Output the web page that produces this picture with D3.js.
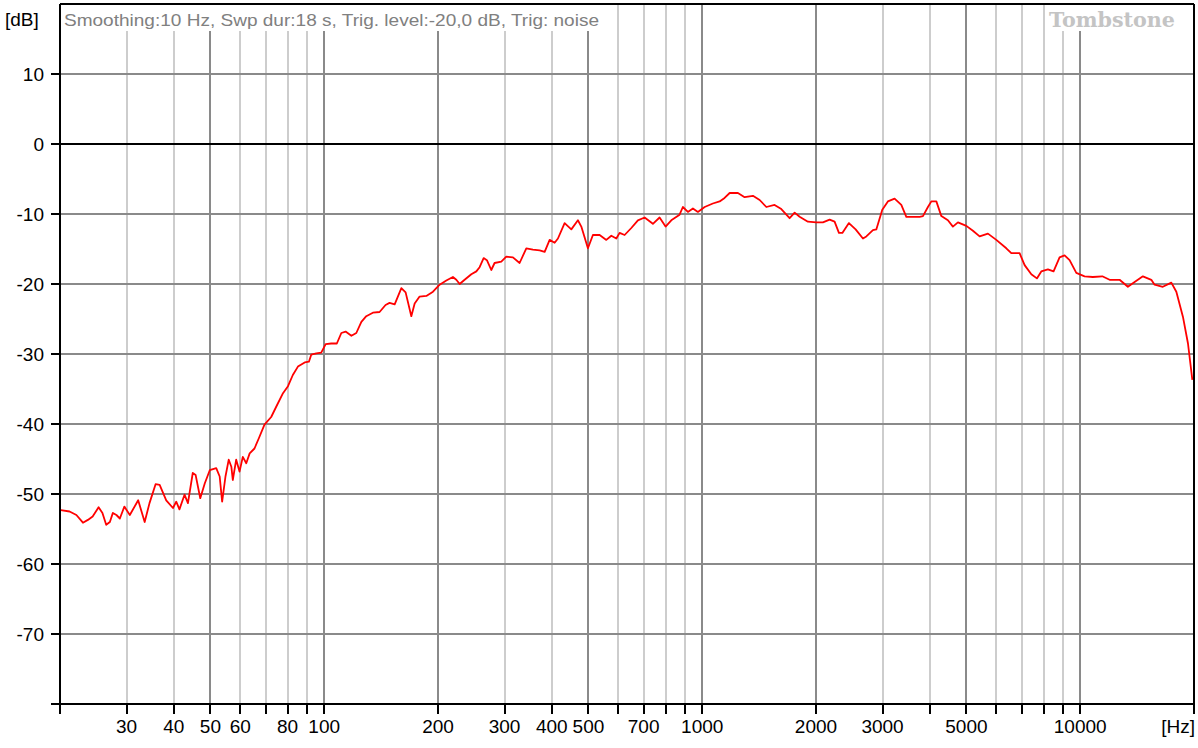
<!DOCTYPE html>
<html>
<head>
<meta charset="utf-8">
<script src="https://cdn.jsdelivr.net/npm/d3@7"></script>
<style>
  body { margin: 0; background: #fff; }
  svg { display: block; font-family: "Liberation Sans", Arial, sans-serif; }
</style>
</head>
<body>
<div id="chart"></div>
<script>
// frequency response (Hz / dB)
const freqs = [20.1, 21.2, 22.1, 23.0, 23.7, 24.4, 25.3, 25.9, 26.5, 27.1, 27.6, 28.2, 28.8, 29.6, 30.6, 32.2, 33.5, 34.5, 35.8, 36.7,
  38.2, 39.8, 40.6, 41.4, 42.7, 43.6, 44.9, 45.7, 47.0, 48.3, 49.8, 51.8, 52.9, 53.7, 54.8, 55.9, 56.8, 57.3, 58.5, 59.7,
  60.9, 62.2, 63.5, 65.4, 67.2, 69.5, 72.4, 74.7, 77.8, 80.2, 82.6, 85.2, 88.8, 91.1, 92.4, 95.3, 98.2, 100.9, 104.4, 108.0,
  111.0, 113.9, 118.0, 121.6, 125.4, 129.2, 134.5, 140.1, 145.3, 148.9, 153.6, 160.0, 164.2, 170.0, 173.5, 178.8, 186.3, 194.0, 202.0, 210.4,
  219.0, 223.6, 228.2, 235.2, 245.0, 252.6, 257.7, 264.1, 269.4, 276.7, 282.3, 294.1, 303.2, 315.7, 328.8, 342.5, 356.6, 371.5, 383.0, 394.8,
  407.0, 415.3, 432.5, 450.5, 469.0, 478.8, 498.5, 513.9, 535.3, 557.6, 574.8, 592.6, 604.6, 623.3, 649.3, 675.9, 704.0, 740.5, 771.3, 800.0,
  828.3, 871.2, 888.9, 916.4, 944.9, 974.1, 1015, 1067, 1112, 1146, 1182, 1243, 1295, 1362, 1419, 1478, 1554, 1619, 1703, 1756,
  1810, 1904, 2004, 2086, 2173, 2240, 2300, 2348, 2444, 2546, 2662, 2718, 2829, 2888, 2995, 3099, 3228, 3363, 3467, 3610,
  3760, 3837, 3955, 4038, 4163, 4292, 4467, 4605, 4748, 4997, 5202, 5419, 5700, 5998, 6375, 6572, 6913, 7127, 7424, 7681,
  7889, 8213, 8502, 8819, 9092, 9374, 9765, 10270, 10800, 11440, 11960, 12710, 13370, 13930, 14650, 15420, 15730, 16540, 17420, 17960,
  18700, 19280, 19800];
const levels = [-52.3, -52.5, -53.0, -54.1, -53.7, -53.2, -51.9, -52.7, -54.4, -54.0, -52.7, -53.0, -53.5, -51.8, -53.0, -50.9, -54.0, -51.3, -48.6, -48.7,
  -50.9, -52.0, -51.1, -52.2, -50.1, -51.3, -47.0, -47.3, -50.6, -48.5, -46.6, -46.3, -47.5, -51.1, -47.5, -45.1, -46.1, -48.0, -45.1, -46.8,
  -44.7, -45.6, -44.2, -43.5, -42.0, -40.1, -39.0, -37.5, -35.6, -34.6, -33.0, -31.8, -31.2, -31.1, -30.1, -29.9, -29.8, -28.6, -28.5, -28.5,
  -27.0, -26.8, -27.4, -27.0, -25.4, -24.6, -24.1, -24.0, -23.0, -22.7, -22.9, -20.6, -21.2, -24.6, -22.8, -21.8, -21.7, -21.1, -20.1, -19.5,
  -19.0, -19.4, -20.0, -19.4, -18.6, -18.2, -17.6, -16.3, -16.6, -18.0, -17.0, -16.8, -16.1, -16.2, -17.0, -14.9, -15.1, -15.2, -15.4, -13.7,
  -14.1, -13.5, -11.3, -12.2, -10.9, -11.8, -14.9, -13.0, -13.0, -13.7, -13.1, -13.5, -12.7, -13.0, -12.0, -10.9, -10.5, -11.4, -10.5, -11.8,
  -10.9, -10.1, -9.0, -9.7, -9.2, -9.7, -9.0, -8.5, -8.2, -7.7, -7.0, -7.0, -7.6, -7.4, -8.0, -9.0, -8.7, -9.3, -10.6, -9.8,
  -10.4, -11.1, -11.2, -11.2, -10.8, -11.1, -12.7, -12.7, -11.3, -12.2, -13.5, -13.2, -12.3, -12.2, -9.4, -8.2, -7.8, -8.7, -10.4, -10.4,
  -10.4, -10.3, -9.0, -8.2, -8.2, -10.3, -10.9, -11.8, -11.2, -11.7, -12.4, -13.2, -12.8, -13.7, -14.9, -15.6, -15.6, -17.3, -18.6, -19.2,
  -18.2, -17.9, -18.2, -16.2, -15.9, -16.6, -18.4, -18.9, -19.0, -18.9, -19.4, -19.4, -20.4, -19.7, -18.9, -19.4, -20.1, -20.4, -19.8, -21.1,
  -24.7, -28.5, -33.7];

const dbTicks = [-70, -60, -50, -40, -30, -20, -10, 0, 10];
const hzLabels = [30, 40, 50, 60, 80, 100, 200, 300, 400, 500, 700, 1000, 2000, 3000, 5000, 10000];
const headerText = "Smoothing:10 Hz, Swp dur:18 s, Trig. level:-20,0 dB, Trig: noise";
const brandText = "Tombstone";

const width = 1198, height = 748;
const plot = {left: 60, right: 1194, top: 4, bottom: 704};

const svg = d3.select("#chart").append("svg")
  .attr("width", width)
  .attr("height", height);

svg.append("rect").attr("width", width).attr("height", height).attr("fill", "#fff");

const x = d3.scaleLog().domain([20, 20000]).range([plot.left, plot.right]);
const y = d3.scaleLinear().domain([-80, 20]).range([plot.bottom, plot.top]);

const allTicks = x.ticks();
const lead = t => Math.round(t / Math.pow(10, Math.floor(Math.log10(t) + 1e-9)));
const isMajor = t => [1, 2, 5].includes(lead(t));

// vertical grid
svg.append("g")
  .attr("shape-rendering", "crispEdges")
  .selectAll("line")
  .data(allTicks.filter(t => t > 20 && t < 20000))
  .join("line")
    .attr("x1", d => Math.round(x(d))).attr("x2", d => Math.round(x(d)))
    .attr("y1", plot.top).attr("y2", plot.bottom)
    .attr("stroke", d => isMajor(d) ? "#8a8a8a" : "#cdcdcd")
    .attr("stroke-width", 2);

// horizontal grid + left ticks
svg.append("g")
  .attr("shape-rendering", "crispEdges")
  .selectAll("line")
  .data(dbTicks)
  .join("line")
    .attr("x1", plot.left).attr("x2", plot.right)
    .attr("y1", d => Math.round(y(d))).attr("y2", d => Math.round(y(d)))
    .attr("stroke", d => d === 0 ? "#000" : "#8a8a8a")
    .attr("stroke-width", 2);
svg.append("g")
  .attr("shape-rendering", "crispEdges")
  .selectAll("line")
  .data(dbTicks)
  .join("line")
    .attr("x1", plot.left - 9).attr("x2", plot.left)
    .attr("y1", d => Math.round(y(d))).attr("y2", d => Math.round(y(d)))
    .attr("stroke", "#000")
    .attr("stroke-width", 2);

// header boxes hide the grid underneath
svg.append("rect").attr("x", plot.left + 1).attr("y", plot.top + 1).attr("width", 546).attr("height", 26).attr("fill", "#fff");
svg.append("rect").attr("x", 1046).attr("y", plot.top + 1).attr("width", 134).attr("height", 26).attr("fill", "#fff");

// curve
const line = d3.line()
  .x(d => x(d[0]))
  .y(d => y(d[1]));
svg.append("path")
  .datum(d3.zip(freqs, levels))
  .attr("d", line)
  .attr("fill", "none")
  .attr("stroke", "#ff0000")
  .attr("stroke-width", 1.8)
  .attr("stroke-linejoin", "round");

// frame
const frame = svg.append("g").attr("shape-rendering", "crispEdges").attr("stroke", "#000").attr("stroke-width", 2);
frame.append("line").attr("x1", plot.left).attr("x2", plot.right).attr("y1", plot.top).attr("y2", plot.top);
frame.append("line").attr("x1", plot.left - 9).attr("x2", plot.right).attr("y1", plot.bottom).attr("y2", plot.bottom);
frame.append("line").attr("x1", plot.left).attr("x2", plot.left).attr("y1", plot.top).attr("y2", plot.bottom + 10);
frame.append("line").attr("x1", plot.right).attr("x2", plot.right).attr("y1", plot.top).attr("y2", plot.bottom + 10);

// x tick marks
svg.append("g")
  .attr("shape-rendering", "crispEdges")
  .selectAll("line")
  .data(allTicks)
  .join("line")
    .attr("x1", d => Math.round(x(d))).attr("x2", d => Math.round(x(d)))
    .attr("y1", plot.bottom).attr("y2", plot.bottom + 10)
    .attr("stroke", "#000")
    .attr("stroke-width", 2);

// x labels
svg.append("g")
  .selectAll("text")
  .data(hzLabels)
  .join("text")
    .attr("x", d => x(d))
    .attr("y", 733)
    .attr("text-anchor", "middle")
    .attr("font-size", 19)
    .attr("fill", "#000")
    .text(d => d);
svg.append("text")
  .attr("x", plot.right + 1).attr("y", 733)
  .attr("text-anchor", "end")
  .attr("font-size", 19)
  .text("[Hz]");

// y labels
svg.append("g")
  .selectAll("text")
  .data(dbTicks)
  .join("text")
    .attr("x", 44)
    .attr("y", d => y(d))
    .attr("dy", "0.35em")
    .attr("text-anchor", "end")
    .attr("font-size", 19)
    .text(d => d);
svg.append("text")
  .attr("x", 5).attr("y", 26)
  .attr("font-size", 19)
  .text("[dB]");

// header
svg.append("text")
  .attr("x", 64).attr("y", 26)
  .attr("font-size", 17)
  .attr("fill", "#808080")
  .attr("textLength", 535)
  .attr("lengthAdjust", "spacingAndGlyphs")
  .text(headerText);
svg.append("text")
  .attr("x", 1049).attr("y", 27)
  .attr("font-family", "'DejaVu Serif', serif")
  .attr("font-weight", "bold")
  .attr("font-size", 20)
  .attr("fill", "#c4c4c4")
  .attr("textLength", 126)
  .attr("lengthAdjust", "spacingAndGlyphs")
  .text(brandText);
</script>
</body>
</html>
